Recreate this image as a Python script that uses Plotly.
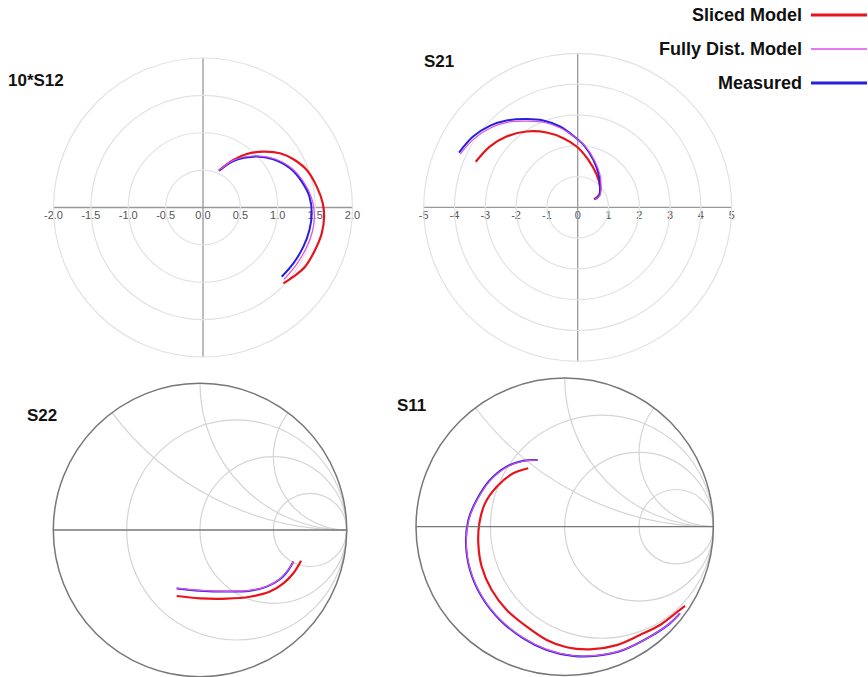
import numpy as np
import plotly.graph_objects as go

W, H = 868, 677

# ---------------- data ----------------
# Panel "10*S12": real / imaginary parts
s12_sliced_re = [0.214, 0.406, 0.585, 0.807, 1.031, 1.209, 1.388, 1.522, 1.602, 1.620, 1.589, 1.499, 1.365, 1.209, 1.075]
s12_sliced_im = [0.493, 0.636, 0.716, 0.747, 0.726, 0.645, 0.502, 0.279, 0.056, -0.123, -0.345, -0.569, -0.792, -0.926, -1.015]
s12_full_re = [0.214, 0.406, 0.674, 0.964, 1.187, 1.352, 1.455, 1.490, 1.463, 1.379, 1.245, 1.084]
s12_full_im = [0.493, 0.631, 0.689, 0.649, 0.524, 0.332, 0.123, -0.100, -0.324, -0.546, -0.770, -0.961]
s12_meas_re = [0.214, 0.406, 0.674, 0.942, 1.165, 1.321, 1.424, 1.455, 1.424, 1.343, 1.209, 1.053]
s12_meas_im = [0.493, 0.622, 0.680, 0.645, 0.524, 0.346, 0.145, -0.078, -0.301, -0.524, -0.747, -0.926]

# Panel "S21"
s21_sliced_re = [-3.31, -2.854, -2.311, -1.660, -1.009, -0.467, -0.033, 0.345, 0.618, 0.726, 0.703, 0.530]
s21_sliced_im = [1.48, 1.973, 2.297, 2.460, 2.428, 2.245, 1.973, 1.539, 1.051, 0.670, 0.400, 0.260]
s21_full_re = [-3.81, -3.342, -2.800, -2.257, -1.607, -1.064, -0.520, -0.088, 0.293, 0.563, 0.726, 0.758, 0.726, 0.563]
s21_full_im = [1.735, 2.245, 2.590, 2.766, 2.798, 2.753, 2.558, 2.278, 1.920, 1.484, 1.051, 0.670, 0.400, 0.260]
s21_meas_re = [-3.853, -3.397, -2.854, -2.311, -1.660, -1.119, -0.576, -0.143, 0.238, 0.508, 0.670, 0.726, 0.703, 0.563]
s21_meas_im = [1.777, 2.297, 2.646, 2.818, 2.864, 2.818, 2.623, 2.320, 1.973, 1.539, 1.106, 0.726, 0.400, 0.260]

# Panel "S22": reflection coefficient (real / imaginary)
s22_sliced_re = [-0.159, 0.000, 0.182, 0.341, 0.477, 0.568, 0.636, 0.689]
s22_sliced_im = [-0.450, -0.466, -0.468, -0.455, -0.420, -0.364, -0.295, -0.209]
s22_full_re = [-0.159, 0.000, 0.182, 0.341, 0.455, 0.545, 0.602, 0.638]
s22_full_im = [-0.396, -0.412, -0.418, -0.412, -0.384, -0.334, -0.271, -0.214]
s22_meas_re = [-0.159, 0.000, 0.182, 0.341, 0.455, 0.545, 0.602, 0.636]
s22_meas_im = [-0.398, -0.414, -0.420, -0.414, -0.386, -0.336, -0.273, -0.216]

# Panel "S11": reflection coefficient (real / imaginary)
s11_sliced_re = [-0.245, -0.346, -0.457, -0.536, -0.574, -0.581, -0.558, -0.491, -0.390, -0.256, -0.121, 0.013, 0.170, 0.350, 0.506, 0.641, 0.730, 0.809]
s11_sliced_im = [0.393, 0.359, 0.269, 0.157, 0.023, -0.112, -0.269, -0.426, -0.560, -0.672, -0.762, -0.811, -0.825, -0.796, -0.728, -0.661, -0.594, -0.533]
s11_full_re = [-0.180, -0.276, -0.388, -0.500, -0.590, -0.646, -0.662, -0.635, -0.556, -0.433, -0.276, -0.119, 0.060, 0.217, 0.396, 0.576, 0.710, 0.777]
s11_full_im = [0.447, 0.442, 0.402, 0.312, 0.178, 0.043, -0.112, -0.289, -0.469, -0.625, -0.749, -0.827, -0.868, -0.866, -0.827, -0.738, -0.648, -0.581]
s11_meas_re = [-0.182, -0.278, -0.390, -0.502, -0.592, -0.648, -0.664, -0.637, -0.558, -0.435, -0.278, -0.121, 0.058, 0.215, 0.394, 0.574, 0.708, 0.775]
s11_meas_im = [0.449, 0.444, 0.404, 0.314, 0.180, 0.045, -0.112, -0.291, -0.471, -0.627, -0.751, -0.829, -0.870, -0.868, -0.829, -0.740, -0.650, -0.583]

series_names = ["Sliced Model", "Fully Dist. Model", "Measured"]
s12_ticks = [-2.0, -1.5, -1.0, -0.5, 0.0, 0.5, 1.0, 1.5, 2.0]
s21_ticks = [-5, -4, -3, -2, -1, 0, 1, 2, 3, 4, 5]
s12_rings = [0.5, 1.0, 1.5, 2.0]
s21_rings = [1, 2, 3, 4, 5]
smith_resistance = [1 / 3, 1.0, 3.0]
smith_reactance = [0.5, 1.0, 2.0]
panel_titles = ["10*S12", "S21", "S22", "S11"]

# ---------------- styling ----------------
RED = "#e8141c"
MAG = "#e04ce8"
BLUE = "#2222dd"
styles = [dict(color=RED, width=2.2), dict(color=MAG, width=1.2), dict(color=BLUE, width=2.0)]
FONT = "Arial, Liberation Sans, Helvetica, sans-serif"
draw_order = [0, 2, 1]


def px_dom(x0, x1, y0, y1):
    return dict(x=[x0 / W, x1 / W], y=[1 - y1 / H, 1 - y0 / H])


def to_polar(re, im):
    z = np.array(re) + 1j * np.array(im)
    return np.abs(z), np.degrees(np.angle(z))


def to_impedance(re, im):
    g = np.array(re) + 1j * np.array(im)
    z = (1 + g) / (1 - g)
    return z.real, z.imag


fig = go.Figure()

polar_sets = [
    ("polar", [(s12_sliced_re, s12_sliced_im), (s12_full_re, s12_full_im), (s12_meas_re, s12_meas_im)]),
    ("polar2", [(s21_sliced_re, s21_sliced_im), (s21_full_re, s21_full_im), (s21_meas_re, s21_meas_im)]),
]
for sub, sets in polar_sets:
    for i in draw_order:
        r, th = to_polar(*sets[i])
        fig.add_trace(go.Scatterpolar(r=r, theta=th, mode="lines", subplot=sub,
                                      line=dict(shape="spline", **styles[i]),
                                      name=series_names[i], showlegend=False))

smith_sets = [
    ("smith", [(s22_sliced_re, s22_sliced_im), (s22_full_re, s22_full_im), (s22_meas_re, s22_meas_im)]),
    ("smith2", [(s11_sliced_re, s11_sliced_im), (s11_full_re, s11_full_im), (s11_meas_re, s11_meas_im)]),
]
for sub, sets in smith_sets:
    for i in draw_order:
        zr, zi = to_impedance(*sets[i])
        fig.add_trace(go.Scattersmith(real=zr, imag=zi, mode="lines", subplot=sub,
                                      line=dict(shape="spline", **styles[i]),
                                      name=series_names[i], showlegend=False))

# invisible carriers for the cartesian tick-label axes
fig.add_trace(go.Scatter(x=[None], y=[None], xaxis="x", yaxis="y", showlegend=False, hoverinfo="skip"))
fig.add_trace(go.Scatter(x=[None], y=[None], xaxis="x2", yaxis="y2", showlegend=False, hoverinfo="skip"))

dom1 = px_dom(53.5, 352.5, 58.0, 357.0)
dom2 = px_dom(423.7, 731.7, 53.3, 361.3)
dom3 = px_dom(53.3, 346.7, 383.3, 676.7)
dom4 = px_dom(416.0, 713.4, 378.0, 675.4)

RING = "#e2e2e2"
CROSS = "#999999"


def polar_layout(dom, rings):
    return dict(
        domain=dom, bgcolor="rgba(0,0,0,0)",
        radialaxis=dict(range=[0, rings[-1]], tickvals=rings, showticklabels=False, ticks="",
                        showline=False, gridcolor=RING, gridwidth=1.2),
        angularaxis=dict(tickvals=[0, 90, 180, 270], showticklabels=False, ticks="",
                         gridcolor=CROSS, gridwidth=1.3, showline=True, linecolor=RING, linewidth=1.2),
    )


def smith_layout(dom):
    return dict(
        domain=dom, bgcolor="rgba(0,0,0,0)",
        realaxis=dict(tickvals=smith_resistance, showticklabels=False, ticks="",
                      gridcolor="#d4d4d4", gridwidth=1.2, linecolor="#777777", linewidth=1.3, showline=True),
        imaginaryaxis=dict(tickvals=smith_reactance, showticklabels=False, ticks="",
                           gridcolor="#d4d4d4", gridwidth=1.2, linecolor="#777777", linewidth=1.5, showline=True),
    )


def label_axis(dom, ticks, fmt, cy):
    return dict(domain=dom["x"], range=[ticks[0], ticks[-1]], anchor="free", position=1 - cy / H,
                tickvals=ticks, ticktext=[fmt.format(t) for t in ticks], showgrid=False, zeroline=False,
                showline=False, ticks="", automargin=False,
                tickfont=dict(family=FONT, size=11, color="#555555"), fixedrange=True)


fig.update_layout(
    template="none",
    width=W, height=H, autosize=False, margin=dict(l=0, r=0, t=0, b=0, pad=0, autoexpand=False),
    paper_bgcolor="white", plot_bgcolor="rgba(0,0,0,0)", showlegend=False,
    polar=polar_layout(dom1, s12_rings),
    polar2=polar_layout(dom2, s21_rings),
    smith=smith_layout(dom3),
    smith2=smith_layout(dom4),
    xaxis=label_axis(dom1, s12_ticks, "{:.1f}", 207.0),
    yaxis=dict(domain=dom1["y"], visible=False, range=[-1, 1], automargin=False),
    xaxis2=label_axis(dom2, s21_ticks, "{:d}", 207.0),
    yaxis2=dict(domain=dom2["y"], visible=False, range=[-1, 1], anchor="x2", automargin=False),
)

# panel titles
title_pos = [(7, 80), (423, 62), (26, 415), (396, 405)]
for txt, (tx, ty) in zip(panel_titles, title_pos):
    fig.add_annotation(text="<b>%s</b>" % txt, x=tx / W, y=1 - ty / H, xref="paper", yref="paper",
                       xanchor="left", yanchor="middle", showarrow=False, borderpad=0,
                       font=dict(family=FONT, size=17, color="#111111"))

# legend (text on the left, line sample on the right)
leg_rows = [15, 49, 83]
for i, ly in enumerate(leg_rows):
    fig.add_annotation(text="<b>%s</b>" % series_names[i], x=803 / W, y=1 - ly / H, xref="paper", yref="paper",
                       xanchor="right", yanchor="middle", showarrow=False, borderpad=0,
                       font=dict(family=FONT, size=18, color="#111111"))
    fig.add_shape(type="line", xref="paper", yref="paper", x0=811 / W, x1=867 / W,
                  y0=1 - ly / H, y1=1 - ly / H,
                  line=dict(color=styles[i]["color"], width=3 if i != 1 else 1.4))

fig.write_html("out.html", config={"displayModeBar": False, "staticPlot": True},
               post_script="document.body.style.margin='0px';document.body.style.overflow='hidden';")
